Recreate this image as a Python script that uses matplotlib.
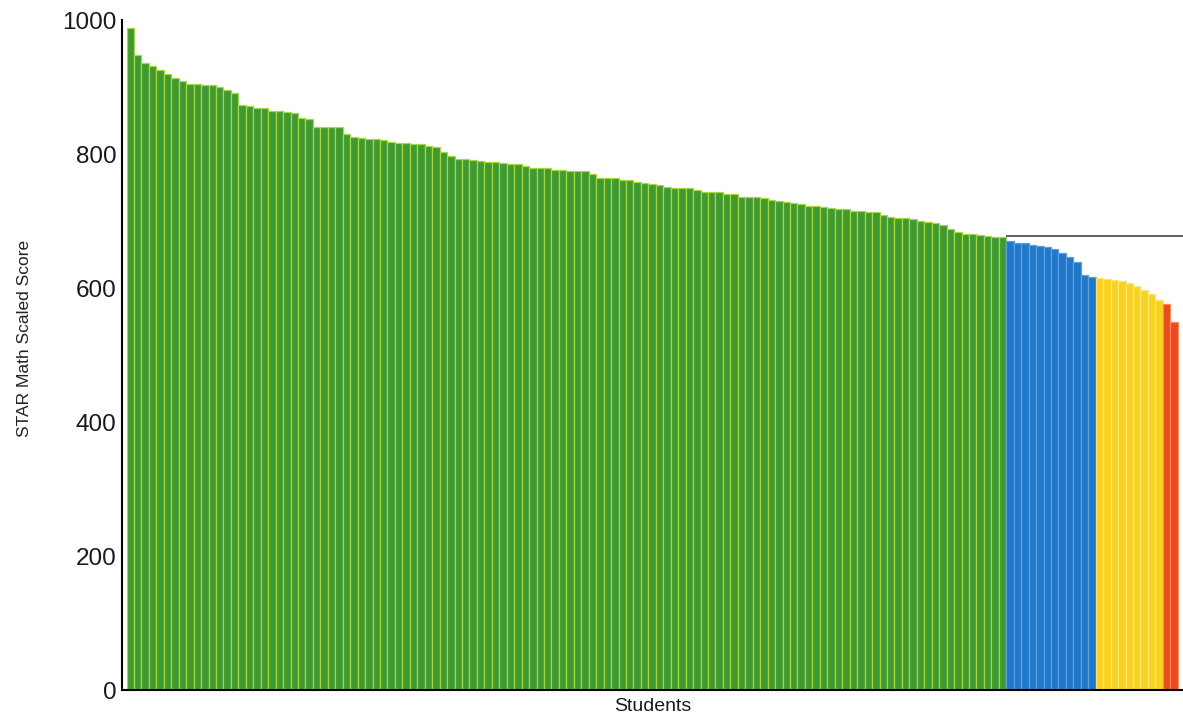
import numpy as np
import matplotlib
matplotlib.use("Agg")
import matplotlib.pyplot as plt

plt.rcParams['font.family'] = ['Liberation Sans', 'DejaVu Sans']

# scores, sorted high to low, grouped by band
green_scores = [989, 948, 936, 931, 926, 919, 914, 909, 904, 904, 903, 903, 900, 896, 891,
                873, 872, 869, 869, 864, 864, 863, 861, 854, 852,
                841, 841, 841, 840, 830, 826, 824, 822, 822, 821, 818, 817, 816, 815, 815,
                812, 811, 803, 797, 793, 793, 791, 790, 789,
                788, 787, 786, 785, 782, 780, 780, 780, 777, 776, 775, 775, 775, 770, 765,
                765, 765, 761, 761, 759, 757, 755, 754, 751, 750, 750, 750,
                747, 744, 743, 743, 741, 740, 736, 736, 736, 735, 732, 730, 729, 727, 725,
                723, 722, 721, 719, 718, 718, 715, 715, 713, 713,
                709, 706, 704, 704, 703, 700, 699, 698, 695, 688, 684, 681, 681, 679, 678,
                677, 677]
blue_scores = [670, 668, 667, 665, 663, 662, 658, 652, 646, 639, 619, 617]
yellow_scores = [615, 613, 612, 610, 608, 603, 597, 592, 582]
red_scores = [576, 550]
benchmark = 678

groups = [
    (green_scores, '#3f9a33', '#a9d83e'),
    (blue_scores, '#1f78c9', '#5d9fe0'),
    (yellow_scores, '#f7d21e', '#fbe67a'),
    (red_scores, '#ec4a1c', '#f58a5c'),
]

fig = plt.figure(figsize=(11.83, 7.19), dpi=100)
ax = fig.add_axes([0.103, 0.040, 0.897, 0.932])

start = 0
for vals, face, edge in groups:
    x = np.arange(start, start + len(vals))
    ax.bar(x, vals, width=1.0, color=face, edgecolor=edge, linewidth=0.9)
    start += len(vals)

n = start
xmax = n - 0.5 + 0.71
ax.hlines(benchmark, len(green_scores) - 0.5, xmax, color='#444444', linewidth=1.2)

ax.set_xlim(-1.13, xmax)
ax.set_ylim(0, 1000)
ax.set_yticks([0, 200, 400, 600, 800, 1000])
ax.set_xticks([])
ax.tick_params(axis='y', length=0, pad=4, labelsize=17.5, colors='#1a1a1a')
for s in ['top', 'right']:
    ax.spines[s].set_visible(False)
ax.spines['left'].set_linewidth(1.5)
ax.spines['bottom'].set_linewidth(1.5)

ax.set_ylabel('STAR Math Scaled Score', fontsize=12.5, color='#222222')
ax.yaxis.set_label_coords(-0.085, 0.525)
ax.set_xlabel('Students', fontsize=14, color='#1a1a1a')
ax.xaxis.set_label_coords(0.5, -0.012)

fig.savefig('out.png', dpi=100)
